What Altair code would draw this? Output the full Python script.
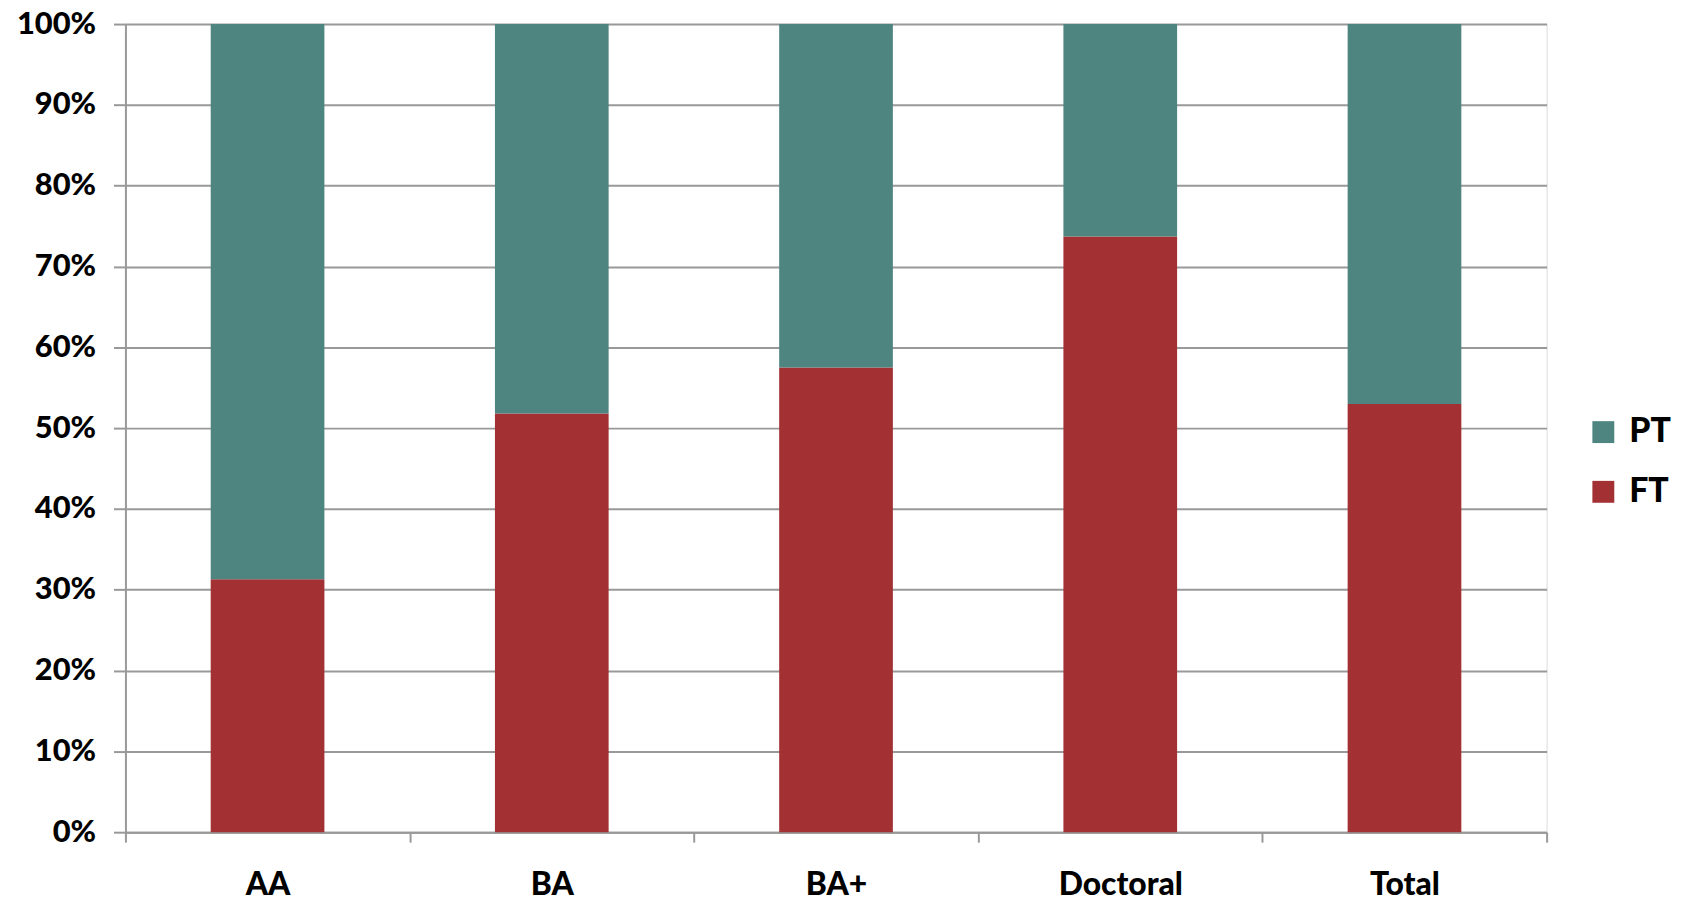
import altair as alt
import pandas as pd

categories = ["AA", "BA", "BA+", "Doctoral", "Total"]
ft_share = [31.3, 51.8, 57.5, 73.7, 53.0]
pt_share = [100 - v for v in ft_share]
series = ["PT", "FT"]
colors = ["#4E8580", "#A33033"]

rows = []
for c, ft, pt in zip(categories, ft_share, pt_share):
    rows.append({"cat": c, "status": "FT", "value": ft / 100, "ord": 0})
    rows.append({"cat": c, "status": "PT", "value": pt / 100, "ord": 1})
df = pd.DataFrame(rows)

FONT = "Lato"

chart = alt.Chart(df).mark_bar(width=alt.RelativeBandSize(0.4)).encode(
    x=alt.X("cat:N", sort=categories, title=None,
            scale=alt.Scale(paddingInner=0, paddingOuter=0),
            axis=alt.Axis(labelAngle=0, tickBand="extent", tickSize=10,
                          labelBaseline="alphabetic", labelPadding=53,
                          labelFontSize=32, labelFont=FONT,
                          labelFontWeight=900, labelColor="#000000",
                          domainColor="#999999", domainWidth=2,
                          tickColor="#999999", tickWidth=2, grid=False)),
    y=alt.Y("value:Q", stack="zero", title=None,
            scale=alt.Scale(domain=[0, 1], nice=False),
            axis=alt.Axis(format=".0%", values=[i / 10 for i in range(11)],
                          tickSize=12, labelPadding=18, labelFontSize=31,
                          labelFont=FONT, labelFontWeight=900,
                          labelColor="#000000", domainColor="#999999",
                          domainWidth=2, tickColor="#999999", tickWidth=2,
                          gridColor="#999999", gridWidth=2)),
    color=alt.Color("status:N", scale=alt.Scale(domain=series, range=colors),
                    legend=alt.Legend(title=None, orient="none", legendX=1468,
                                      legendY=393, symbolType="square",
                                      symbolSize=484, symbolStrokeWidth=0,
                                      labelFontSize=34, labelFont=FONT,
                                      labelFontWeight=900,
                                      labelColor="#000000", rowPadding=26,
                                      labelOffset=9)),
    order=alt.Order("ord:Q"),
).properties(
    width=1428, height=812,
    autosize=alt.AutoSizeParams(type="none"),
    padding={"left": 118, "top": 14, "right": 127, "bottom": 67},
).configure_view(stroke=None).configure(background="white")

chart.save("out.html", embed_options={"renderer": "svg", "actions": False})
